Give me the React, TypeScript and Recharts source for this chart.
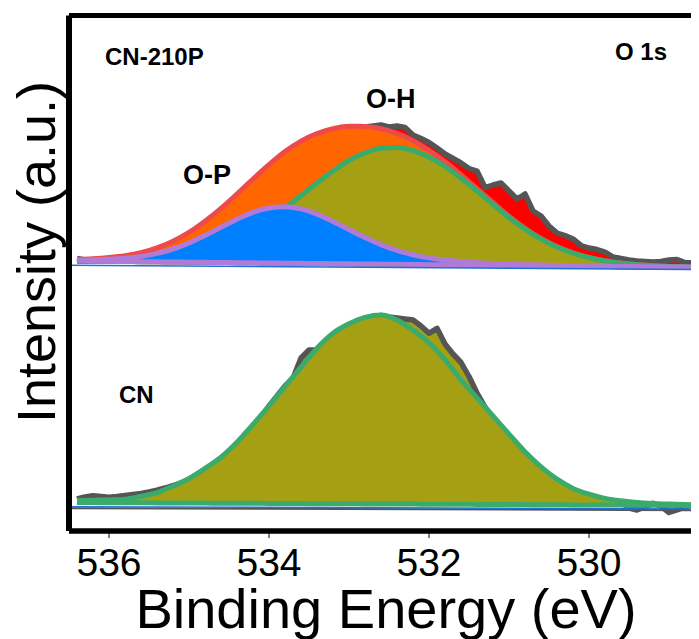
import { Area, ComposedChart, ReferenceLine, XAxis, YAxis } from "recharts";

const FONT = "'Liberation Sans', Arial, Helvetica, sans-serif";

const OLIVE = "#a59f14";
const FIT_GREEN = "#3aab6b";
const RAW_GREY = "#555555";
const BG_BLUE = "#1f70d6";

// binding energy grids, eV (high -> low)
const grid = (start: number, step: number, count: number) =>
	Array.from({ length: count }, (_, i) => Math.round((start - i * step) * 10) / 10);

const fitEnergy = grid(536.4, 0.2, 40);
const rawEnergy = grid(536.4, 0.1, 79);

const yTop = 515.5;

// ---- CN-210P (upper trace) ----
const p210Background = [
	270.0, 269.8, 269.7, 269.5, 269.3, 269.2, 269.0, 268.8, 268.7, 268.5,
	268.3, 268.2, 268.0, 267.8, 267.7, 267.5, 267.3, 267.2, 267.0, 266.8,
	266.7, 266.5, 266.3, 266.2, 266.0, 265.8, 265.7, 265.5, 265.3, 265.2,
	265.0, 264.8, 264.7, 264.5, 264.3, 264.2, 264.0, 263.8, 263.7, 263.5,
];
// O-P component (height over background)
const p210OP = [
	0.8, 1.3, 2.0, 3.2, 5.2, 8.4, 13.0, 19.2, 26.8, 35.2,
	43.5, 50.5, 55.0, 56.5, 54.4, 49.4, 42.2, 34.2, 26.4, 19.6,
	14.0, 9.8, 6.8, 4.8, 3.4, 2.4, 1.8, 1.3, 1.0, 0.7,
	0.5, 0.4, 0.3, 0.2, 0.2, 0.1, 0.1, 0.1, 0, 0,
];
// O-H component
const p210OH = [
	0.8, 1.2, 1.8, 2.6, 3.8, 5.6, 7.8, 10.6, 14.3, 19.0,
	25.2, 33.3, 43.3, 55.1, 67.8, 80.6, 92.7, 103.3, 111.2, 115.9,
	116.9, 114.0, 107.6, 98.3, 86.8, 74.2, 61.0, 48.0, 36.5, 26.8,
	19.0, 13.0, 8.6, 5.6, 3.5, 2.1, 1.2, 0.6, 0.3, 0.1,
];
// fitted envelope
const p210Envelope = [
	1.6, 2.5, 3.8, 5.8, 9.0, 14.0, 20.8, 29.8, 41.1, 54.2,
	68.7, 83.8, 98.3, 111.6, 122.2, 130.0, 134.9, 137.5, 137.6, 135.5,
	130.9, 123.8, 114.4, 103.1, 90.2, 76.6, 62.8, 49.3, 37.5, 27.5,
	19.5, 13.4, 8.9, 5.8, 3.7, 2.2, 1.3, 0.7, 0.3, 0.1,
];
// measured counts (offset trace)
const p210Raw = [
	272.5, 271.0, 271.2, 271.8, 272.0, 273.0, 273.6, 275.0, 276.4, 278.5,
	281.0, 284.2, 287.5, 291.6, 296.0, 301.5, 307.2, 313.0, 319.5, 327.0,
	334.0, 341.5, 349.0, 356.5, 363.0, 370.0, 376.0, 381.5, 386.5, 391.0,
	394.5, 397.5, 400.0, 401.5, 403.0, 403.5, 404.0, 405.0, 406.0, 404.0,
	405.0, 403.5, 396.0, 392.5, 388.5, 383.0, 377.0, 372.5, 368.0, 362.5,
	360.0, 343.5, 346.0, 348.0, 340.0, 332.0, 337.0, 320.0, 315.0, 305.0,
	298.0, 295.5, 292.0, 285.5, 283.0, 281.5, 279.0, 274.0, 272.5, 271.0,
	270.0, 269.5, 269.0, 269.5, 271.0, 271.5, 268.5, 268.0, 268.0,
];
// linear background line, end points
const p210Shirley = [
	{ x: 536.5, y: 265.8 },
	{ x: 528.5, y: 261.3 },
];

// ---- CN (lower trace) ----
const cnBackground = [
	28.5, 28.4, 28.3, 28.3, 28.2, 28.1, 28.0, 28.0, 27.9, 27.8,
	27.7, 27.7, 27.6, 27.5, 27.4, 27.3, 27.3, 27.2, 27.1, 27.0,
	27.0, 26.9, 26.8, 26.7, 26.7, 26.6, 26.5, 26.4, 26.4, 26.3,
	26.2, 26.1, 26.1, 26.0, 25.9, 25.8, 25.7, 25.7, 25.6, 25.5,
];
const cnFit = [
	1.9, 2.4, 2.9, 3.5, 6.5, 10.2, 17.0, 24.5, 34.7, 46.0,
	61.0, 78.8, 97.5, 117.0, 136.4, 155.5, 170.5, 180.0, 186.5, 189.0,
	184.1, 174.0, 161.5, 144.5, 124.5, 106.5, 88.5, 70.5, 52.8, 37.8,
	25.6, 16.5, 10.7, 6.6, 4.3, 2.6, 1.7, 1.2, 0.8, 0.5,
];
const cnRaw = [
	32.0, 34.0, 35.3, 34.5, 33.7, 34.5, 35.5, 36.5, 37.5, 39.0,
	40.8, 43.0, 45.5, 48.0, 50.0, 53.0, 60.0, 64.0, 68.0, 76.0,
	84.3, 97.0, 104.0, 112.0, 125.0, 135.0, 145.0, 152.7, 173.0, 181.0,
	181.0, 189.0, 194.0, 200.0, 205.0, 209.0, 212.0, 214.0, 215.5, 214.0,
	213.0, 212.0, 211.0, 205.0, 197.7, 202.7, 187.0, 177.0, 168.5, 154.5,
	138.0, 124.0, 112.0, 101.0, 93.0, 82.0, 74.0, 66.0, 60.0, 53.0,
	48.5, 45.0, 40.0, 37.0, 34.5, 32.0, 31.0, 30.0, 29.0, 23.0,
	21.0, 24.0, 27.7, 25.0, 18.5, 21.0, 24.0, 26.5, 27.7,
];
const cnShirley = [
	{ x: 536.5, y: 24.3 },
	{ x: 528.5, y: 22.0 },
];
const cnFloor = [
	{ x: 536.5, y: 22.8 },
	{ x: 528.5, y: 20.8 },
];

const energyTicks = [536, 534, 532, 530];

// rows for the range areas: [background, background + component]
const p210Rows = fitEnergy.map((e, i) => ({
	e,
	op: [p210Background[i], p210Background[i] + p210OP[i]],
	oh: [p210Background[i], p210Background[i] + p210OH[i]],
	env: [p210Background[i], p210Background[i] + p210Envelope[i]],
}));
const cnRows = fitEnergy.map((e, i) => ({
	e,
	fit: [cnBackground[i], cnBackground[i] + cnFit[i]],
}));
const p210RawRows = rawEnergy.map((e, i) => ({ e, v: p210Raw[i] }));
const cnRawRows = rawEnergy.map((e, i) => ({ e, v: cnRaw[i] }));

// sample names, peak labels and axis titles, laid over the chart
function Annotations() {
	return (
		<svg
			width={691}
			height={631}
			style={{ position: "absolute", left: 0, top: 0, pointerEvents: "none" }}
			fontFamily={FONT}
			fill="#000"
		>
			<text x={97} y={57} fontSize={24} fontWeight={700}>
				CN-210P
			</text>
			<text x={607} y={52} fontSize={24} fontWeight={700}>
				O 1s
			</text>
			<text x={358} y={100} fontSize={27} fontWeight={700}>
				O-H
			</text>
			<text x={175} y={176} fontSize={27} fontWeight={700}>
				O-P
			</text>
			<text x={111} y={395} fontSize={24} fontWeight={700}>
				CN
			</text>
			<text x={378} y={620} fontSize={56} textAnchor="middle">
				Binding Energy (eV)
			</text>
			<text transform="translate(47 244) rotate(-90)" fontSize={54} textAnchor="middle">
				Intensity (a.u.)
			</text>
		</svg>
	);
}

export default function App() {
	return (
		<div style={{ position: "relative", width: 691, height: 631, overflow: "hidden" }}>
			<ComposedChart width={720} height={631} margin={{ top: 7.5, right: 19, bottom: 0, left: 0 }}>
				<XAxis
					type="number"
					dataKey="e"
					domain={[528.5, 536.5]}
					reversed
					allowDataOverflow
					ticks={energyTicks}
					height={108}
					tickSize={7}
					tickMargin={10}
					tick={{ fontSize: 39, fill: "#000", fontFamily: FONT }}
					tickLine={{ stroke: "#000", strokeWidth: 1 }}
					axisLine={{ stroke: "#000", strokeWidth: 5.5 }}
				/>
				<YAxis
					type="number"
					domain={[0, yTop]}
					allowDataOverflow
					width={61}
					tick={false}
					tickLine={false}
					axisLine={{ stroke: "#000", strokeWidth: 6 }}
				/>

				{/* CN-210P */}
				<Area
					data={p210RawRows}
					dataKey="v"
					type="linear"
					baseValue={267}
					stroke={RAW_GREY}
					strokeWidth={5.5}
					strokeLinejoin="round"
					fill="#ff0000"
					fillOpacity={1}
					isAnimationActive={false}
				/>
				<Area
					data={p210Rows}
					dataKey="env"
					type="monotone"
					stroke="#ee4a4a"
					strokeWidth={5}
					fill="#ff6600"
					fillOpacity={1}
					isAnimationActive={false}
				/>
				<Area
					data={p210Rows}
					dataKey="oh"
					type="monotone"
					stroke={FIT_GREEN}
					strokeWidth={5}
					fill={OLIVE}
					fillOpacity={1}
					isAnimationActive={false}
				/>
				<Area
					data={p210Rows}
					dataKey="op"
					type="monotone"
					stroke="#b07ad8"
					strokeWidth={5}
					fill="#0080ff"
					fillOpacity={1}
					isAnimationActive={false}
				/>
				<ReferenceLine segment={p210Shirley} stroke={BG_BLUE} strokeWidth={1.5} />

				{/* CN */}
				<ReferenceLine segment={cnFloor} stroke={RAW_GREY} strokeWidth={2} />
				<Area
					data={cnRawRows}
					dataKey="v"
					type="linear"
					baseValue={26}
					stroke={RAW_GREY}
					strokeWidth={5.5}
					strokeLinejoin="round"
					fill={OLIVE}
					fillOpacity={1}
					isAnimationActive={false}
				/>
				<Area
					data={cnRows}
					dataKey="fit"
					type="monotone"
					stroke={FIT_GREEN}
					strokeWidth={5}
					fill={OLIVE}
					fillOpacity={1}
					isAnimationActive={false}
				/>
				<ReferenceLine segment={cnShirley} stroke={BG_BLUE} strokeWidth={1.5} />

				{/* top edge of the frame */}
				<ReferenceLine y={yTop} stroke="#000" strokeWidth={5} />
			</ComposedChart>
			<Annotations />
		</div>
	);
}
